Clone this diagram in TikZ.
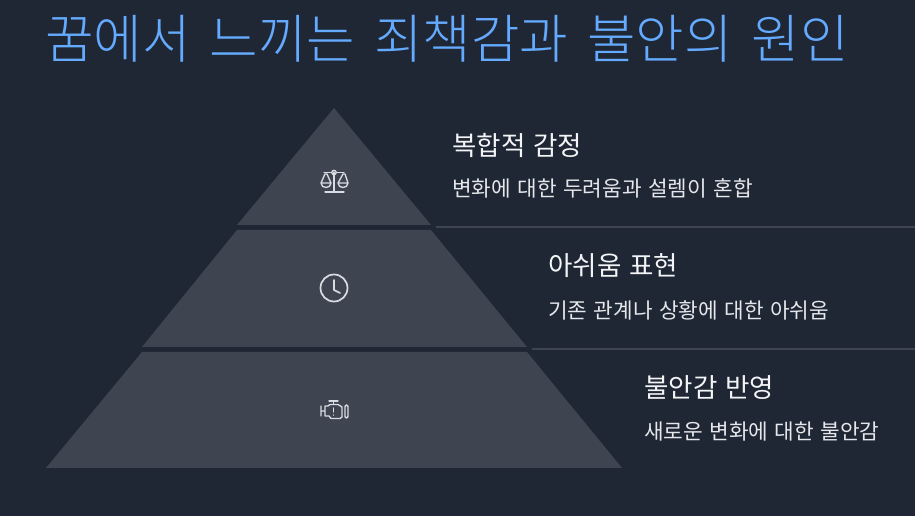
\documentclass[tikz,border=0pt]{standalone}
\usepackage{fontspec}
\setmainfont{Noto Sans CJK KR}
\newfontfamily\titlefont[WordSpace=1.65]{Noto Sans CJK KR Light}
\newfontfamily\bodyfont[WordSpace=1.35]{Noto Sans CJK KR}
\definecolor{bgc}{HTML}{1F2735}
\definecolor{tierc}{HTML}{3E4551}
\definecolor{linec}{HTML}{3E4551}
\definecolor{titlec}{HTML}{64AAFF}
\definecolor{headc}{HTML}{F3F4F6}
\definecolor{subc}{HTML}{E5E7EB}
\definecolor{iconc}{HTML}{D8DCE2}
\tikzset{
  x=0.75pt,y=-0.75pt,
  tier/.style={fill=tierc,draw=none},
  sep/.style={draw=linec,line width=1.5pt},
  titletext/.style={anchor=west,text=titlec,inner sep=0pt,font=\titlefont\fontsize{39.5}{48}\selectfont},
  headtext/.style={anchor=west,text=headc,inner sep=0pt,font=\bodyfont\fontsize{19.9}{24}\selectfont},
  subtext/.style={anchor=west,text=subc,inner sep=0pt,font=\bodyfont\fontsize{16}{20}\selectfont},
  icon/.style={draw=iconc,line width=1pt,line cap=round,line join=round,fill=none},
}
\begin{document}
\begin{tikzpicture}
\useasboundingbox (0,0) rectangle (915,516);
\fill[bgc] (0,0) rectangle (915,516);
\node[titletext] (title) at (45,38.5) {꿈에서 느끼는 죄책감과 불안의 원인};
\fill[tier] (334,108) -- (431,225) -- (237,225) -- cycle;
\fill[tier] (237,230) -- (431,230) -- (527,347) -- (142,347) -- cycle;
\fill[tier] (142,352) -- (527,352) -- (622,468) -- (46,468) -- cycle;
\coordinate (s1a) at (436,227.5); \coordinate (s1b) at (915,227.5);
\coordinate (s2a) at (532,349.5); \coordinate (s2b) at (915,349.5);
\draw[sep] (s1a) -- (s1b);
\draw[sep] (s2a) -- (s2b);
\node[headtext] (h1) at (452,145) {복합적 감정};
\node[subtext] (t1) at (452,188) {변화에 대한 두려움과 설렘이 혼합};
\node[headtext] (h2) at (548,266) {아쉬움 표현};
\node[subtext] (t2) at (548,310) {기존 관계나 상황에 대한 아쉬움};
\node[headtext] (h3) at (644,388) {불안감 반영};
\node[subtext] (t3) at (644,432) {새로운 변화에 대한 불안감};
% scale icon
\draw[icon] (334,172) -- (334,192) (325,192) -- (344,192);
\draw[icon] (324,172.5) -- (331.5,172.5) (336.5,172.5) -- (344,172.5);
\draw[icon] (334,172.5) circle[radius=2.2];
\draw[icon] (325,174) -- (321,183) .. controls (321,189) and (331,189) .. (331,183) -- (327,174) -- cycle (321,183) -- (331,183);
\draw[icon] (343,174) -- (338,183) .. controls (338,189) and (348,189) .. (348,183) -- (345,174) -- cycle (338,183) -- (348,183);
% clock icon
\draw[icon,line width=1.3pt] (334,288) circle[radius=13.5];
\draw[icon,line width=1.3pt] (334,280) -- (334,290) -- (340,293);
% engine icon
\draw[icon] (321,406) -- (321,416) (321,411) -- (325,411) (325,406) -- (325,416) -- (329,416) -- (331,418.5) -- (340,418.5) -- (342,417) -- (342,407) -- (338,404.5) -- (330,404.5) -- (328,406) -- cycle;
\draw[icon] (329,401) -- (338,401) (333.5,401) -- (333.5,404.5);
\draw[icon] (333.5,408) -- (333.5,412) (333.5,415) -- (333.5,415.2);
\draw[icon,rounded corners=1pt] (345,405) rectangle (348,418);
\end{tikzpicture}
\end{document}
